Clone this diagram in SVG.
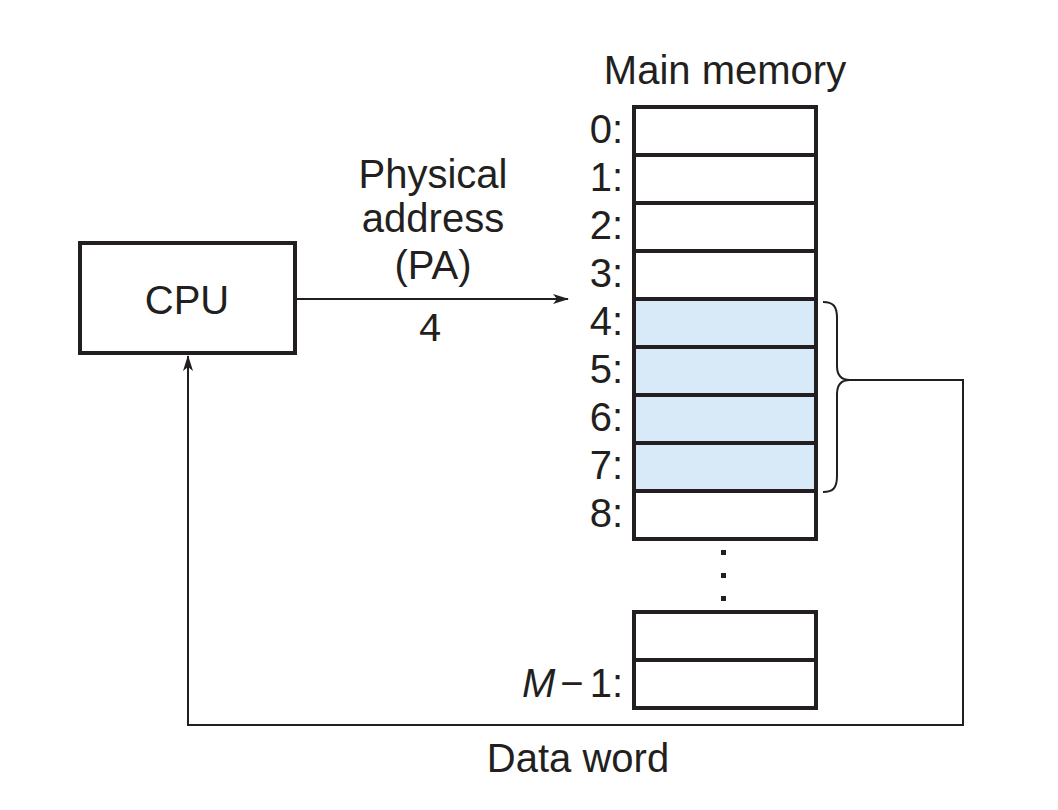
<svg xmlns="http://www.w3.org/2000/svg" width="1058" height="810" viewBox="0 0 1058 810">
<style>
text{font-family:"Liberation Sans",Arial,sans-serif;font-size:40px;fill:#231f20}
.lbl{text-anchor:end}
.mid{text-anchor:middle}
.cell{fill:#fff;stroke:#231f20;stroke-width:4}
.hl{fill:#d8eaf7}
.ln{fill:none;stroke:#231f20;stroke-width:2}
.mono{font-family:"Liberation Mono","Courier New",monospace;font-size:40px;font-weight:300}
</style>
<defs>
<marker id="ah" markerWidth="16" markerHeight="10" refX="15" refY="5" orient="auto" markerUnits="userSpaceOnUse">
<path d="M0,0 L16,5 L0,10 L4,5 Z" fill="#231f20"/>
</marker>
</defs>
<rect width="1058" height="810" fill="#fff"/>
<g id="cpu">
<rect x="80" y="243" width="215" height="110" fill="#fff" stroke="#231f20" stroke-width="4"/>
<text x="187" y="314" class="mid">CPU</text>
</g>
<g id="memory">
<text x="725" y="84" class="mid">Main memory</text>
<rect class="cell" x="634" y="107" width="182" height="48"/>
<rect class="cell" x="634" y="155" width="182" height="48"/>
<rect class="cell" x="634" y="203" width="182" height="48"/>
<rect class="cell" x="634" y="251" width="182" height="48"/>
<rect class="cell hl" x="634" y="299" width="182" height="48"/>
<rect class="cell hl" x="634" y="347" width="182" height="48"/>
<rect class="cell hl" x="634" y="395" width="182" height="48"/>
<rect class="cell hl" x="634" y="443" width="182" height="48"/>
<rect class="cell" x="634" y="491" width="182" height="48"/>
<rect class="cell" x="634" y="612" width="182" height="48"/>
<rect class="cell" x="634" y="660" width="182" height="48"/>
<text x="623" y="143" class="lbl">0:</text>
<text x="623" y="191" class="lbl">1:</text>
<text x="623" y="239" class="lbl">2:</text>
<text x="623" y="287" class="lbl">3:</text>
<text x="623" y="335" class="lbl">4:</text>
<text x="623" y="383" class="lbl">5:</text>
<text x="623" y="431" class="lbl">6:</text>
<text x="623" y="479" class="lbl">7:</text>
<text x="623" y="527" class="lbl">8:</text>
<text x="623" y="697" class="lbl"><tspan font-style="italic">M</tspan><tspan dx="5">−</tspan><tspan dx="6">1:</tspan></text>
<rect x="721" y="550" width="5" height="5" fill="#231f20"/>
<rect x="721" y="573" width="5" height="5" fill="#231f20"/>
<rect x="721" y="596" width="5" height="5" fill="#231f20"/>
</g>
<g id="connectors">
<line class="ln" x1="296" y1="299" x2="568" y2="299" marker-end="url(#ah)"/>
<path class="ln" d="M823,302 C833,302 837,306 837,318 L837,366 C837,376 842,380 850,380 C842,380 837,384 837,394 L837,476 C837,488 833,492 823,492"/>
<polyline class="ln" points="850,380 963,380 963,725 188,725 188,356" marker-end="url(#ah)"/>
</g>
<g id="labels">
<text x="433" y="188" class="mid">Physical</text>
<text x="433" y="232" class="mid">address</text>
<text x="433" y="279" class="mid">(PA)</text>
<text x="430" y="341" class="mid mono">4</text>
<text x="578" y="772" class="mid">Data word</text>
</g>
</svg>
